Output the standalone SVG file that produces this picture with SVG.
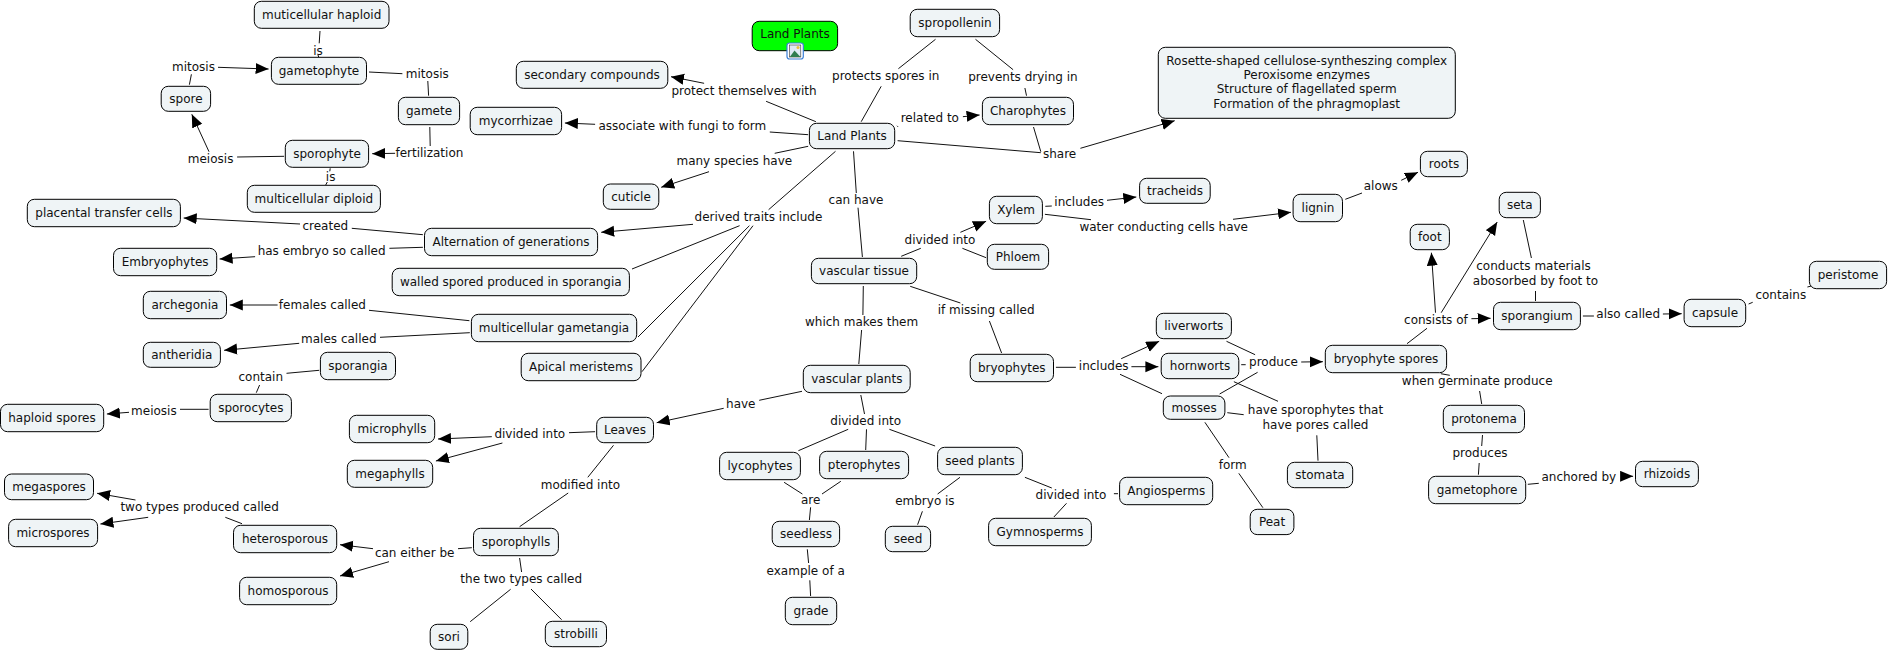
<svg xmlns="http://www.w3.org/2000/svg" width="1889" height="651" viewBox="0 0 1889 651">
<style>
rect.n{fill:#eff4f6;stroke:#000;stroke-width:1;rx:7px;ry:7px}
text{font-family:"DejaVu Sans","Liberation Sans",sans-serif;font-size:12px;fill:#111;text-anchor:middle}
.c line{stroke:#111;stroke-width:1;fill:none}
.c line.a{marker-end:url(#ah)}
</style>
<defs>
<marker id="ah" markerUnits="userSpaceOnUse" markerWidth="14" markerHeight="12" refX="13" refY="5.5" orient="auto"><polygon points="0,0 13,5.5 0,11" fill="#000"/></marker>
</defs>
<rect width="1889" height="651" fill="#fff"/>
<g id="connectors" class="c">
<line x1="320" y1="31" x2="319.2" y2="43.3"/>
<line x1="318" y1="55" x2="318.8" y2="57.3"/>
<line class="a" x1="218" y1="67.3" x2="268.6" y2="69"/>
<line x1="189.4" y1="84.7" x2="191.4" y2="74.3"/>
<line x1="369" y1="72" x2="402.4" y2="73.7"/>
<line x1="427.8" y1="81" x2="428.6" y2="95.7"/>
<line x1="429.8" y1="127" x2="430.2" y2="146"/>
<line class="a" x1="395.1" y1="153.3" x2="372.2" y2="153.7"/>
<line x1="284.1" y1="156.3" x2="237.1" y2="157"/>
<line class="a" x1="209" y1="151.7" x2="191.8" y2="114.3"/>
<line x1="330.2" y1="168.3" x2="329.8" y2="171.3"/>
<line x1="327.3" y1="182" x2="325.7" y2="185"/>
<line x1="422.9" y1="234.7" x2="351.8" y2="228.3"/>
<line class="a" x1="300" y1="224" x2="183.7" y2="218"/>
<line x1="422.9" y1="247.3" x2="389.4" y2="248.3"/>
<line class="a" x1="255.1" y1="256.7" x2="219.6" y2="259"/>
<line x1="469.4" y1="320.7" x2="369" y2="310.3"/>
<line class="a" x1="277.6" y1="305" x2="229.8" y2="305"/>
<line x1="469.8" y1="332.7" x2="380" y2="337.3"/>
<line class="a" x1="299.2" y1="343.3" x2="224.1" y2="350.3"/>
<line x1="319.2" y1="370.3" x2="286.5" y2="373.3"/>
<line x1="259.6" y1="385" x2="256.3" y2="392.7"/>
<line x1="208.6" y1="409.3" x2="180" y2="409.3"/>
<line class="a" x1="129" y1="412.3" x2="106.9" y2="414"/>
<line x1="595.1" y1="431.7" x2="569" y2="432.7"/>
<line class="a" x1="491.8" y1="436.7" x2="438" y2="439"/>
<line class="a" x1="502.4" y1="443" x2="435.9" y2="461"/>
<line x1="613.5" y1="445.3" x2="587.8" y2="477.3"/>
<line x1="568.2" y1="493" x2="519.6" y2="526.7"/>
<line x1="471.8" y1="547.7" x2="458" y2="548.7"/>
<line class="a" x1="373" y1="548.7" x2="340" y2="544.7"/>
<line class="a" x1="389" y1="561.7" x2="340" y2="576"/>
<line x1="242" y1="523.7" x2="225.3" y2="517.3"/>
<line class="a" x1="135.5" y1="500" x2="97.1" y2="493.3"/>
<line class="a" x1="148.2" y1="517.3" x2="100.4" y2="524"/>
<line x1="519.6" y1="558" x2="521.6" y2="572"/>
<line x1="510.6" y1="589.3" x2="470.2" y2="621.7"/>
<line x1="531" y1="589" x2="561.6" y2="619.7"/>
<line x1="861.2" y1="121.7" x2="881.2" y2="86.3"/>
<line x1="898.4" y1="68.7" x2="935.5" y2="39.3"/>
<line x1="975.5" y1="39.3" x2="1013.1" y2="69.7"/>
<line x1="1024.9" y1="88" x2="1026.5" y2="95.7"/>
<line x1="815.9" y1="121.7" x2="766.1" y2="101.3"/>
<line class="a" x1="704.1" y1="83.3" x2="671" y2="76.7"/>
<line x1="808.2" y1="134.7" x2="769.8" y2="132"/>
<line class="a" x1="595.1" y1="124.3" x2="564.9" y2="123"/>
<line x1="808.2" y1="146.3" x2="774.7" y2="153.3"/>
<line class="a" x1="709" y1="171.7" x2="661.2" y2="187.3"/>
<line x1="897" y1="125.8" x2="898" y2="126.8"/>
<line class="a" x1="962.9" y1="116.7" x2="979.6" y2="115"/>
<line x1="897.6" y1="140.7" x2="1040.8" y2="152.7"/>
<line x1="1033.5" y1="127" x2="1040.8" y2="151.7"/>
<line class="a" x1="1080.4" y1="148.3" x2="1174.7" y2="120.7"/>
<line x1="853.5" y1="151.3" x2="856.3" y2="193"/>
<line x1="858" y1="207.7" x2="862.4" y2="257"/>
<line x1="835.5" y1="151.3" x2="768.6" y2="209.7"/>
<line class="a" x1="693" y1="224.3" x2="601.2" y2="232.3"/>
<line x1="739.6" y1="225.7" x2="632" y2="269"/>
<line x1="749.4" y1="225.7" x2="638" y2="337"/>
<line x1="753" y1="225.7" x2="642" y2="371.7"/>
<line x1="901.2" y1="256.3" x2="920.8" y2="248.3"/>
<line class="a" x1="960.4" y1="232.3" x2="986.1" y2="221.3"/>
<line x1="962.4" y1="248.3" x2="986.1" y2="257.7"/>
<line x1="1045.3" y1="206.3" x2="1051.8" y2="206"/>
<line class="a" x1="1107" y1="200.3" x2="1136.3" y2="197"/>
<line x1="1044.9" y1="214.3" x2="1091" y2="219.7"/>
<line class="a" x1="1233" y1="219.3" x2="1291" y2="212.3"/>
<line x1="1345.3" y1="199.3" x2="1362" y2="193"/>
<line class="a" x1="1401.2" y1="180.3" x2="1418" y2="172.3"/>
<line x1="863.3" y1="286" x2="862.9" y2="315"/>
<line x1="861.6" y1="330" x2="858.8" y2="364"/>
<line x1="910.2" y1="286.3" x2="960.4" y2="303"/>
<line x1="989.4" y1="321" x2="1001.6" y2="353"/>
<line x1="802" y1="391.3" x2="759.2" y2="400.3"/>
<line class="a" x1="723.7" y1="408.3" x2="656.7" y2="422.7"/>
<line x1="860.8" y1="395" x2="864.5" y2="414"/>
<line x1="848.2" y1="429.3" x2="798.4" y2="450.7"/>
<line x1="866.5" y1="429.3" x2="865.7" y2="450"/>
<line x1="889.4" y1="429.3" x2="935.1" y2="446"/>
<line x1="784.1" y1="482.3" x2="802.4" y2="494"/>
<line x1="840.8" y1="481.3" x2="822" y2="494"/>
<line x1="810.6" y1="507.3" x2="809.4" y2="520"/>
<line x1="807.3" y1="549.3" x2="808.6" y2="563"/>
<line x1="809.8" y1="580.3" x2="810.6" y2="596"/>
<line x1="960" y1="477.3" x2="937.6" y2="494"/>
<line x1="922.4" y1="511.3" x2="917.6" y2="524.7"/>
<line x1="1024.9" y1="477.3" x2="1051.8" y2="488"/>
<line x1="1118" y1="493.7" x2="1113.9" y2="493.7"/>
<line x1="1066.5" y1="503.3" x2="1053.9" y2="517"/>
<line x1="1055.9" y1="367.3" x2="1075.9" y2="367.3"/>
<line class="a" x1="1121.2" y1="358.7" x2="1159.2" y2="341.3"/>
<line class="a" x1="1131.4" y1="366.7" x2="1158.4" y2="366.7"/>
<line x1="1120" y1="374.3" x2="1162" y2="393.7"/>
<line x1="1226.5" y1="341.3" x2="1255.1" y2="354.7"/>
<line x1="1241.2" y1="364.7" x2="1245.7" y2="364.7"/>
<line x1="1219.6" y1="394" x2="1257.6" y2="372.3"/>
<line x1="1233.9" y1="381.7" x2="1278" y2="401.3"/>
<line x1="1227.3" y1="412.7" x2="1243.7" y2="414.7"/>
<line x1="1316.8" y1="435.3" x2="1318" y2="460.7"/>
<line x1="1204.9" y1="422.3" x2="1229" y2="457.7"/>
<line x1="1238.8" y1="473.3" x2="1262.9" y2="507.7"/>
<line class="a" x1="1301.2" y1="362" x2="1322.9" y2="361.7"/>
<line x1="1407" y1="343.7" x2="1427" y2="328.3"/>
<line class="a" x1="1435.5" y1="312.7" x2="1431.4" y2="252.7"/>
<line class="a" x1="1441.2" y1="312.7" x2="1497.2" y2="222"/>
<line class="a" x1="1471.4" y1="318.7" x2="1490.6" y2="318.3"/>
<line x1="1535.5" y1="291" x2="1535.5" y2="301"/>
<line x1="1531.4" y1="258" x2="1523.3" y2="220"/>
<line x1="1582.9" y1="316" x2="1593.9" y2="316"/>
<line class="a" x1="1662.9" y1="314" x2="1681.7" y2="313.7"/>
<line x1="1748.6" y1="304" x2="1752.7" y2="302.3"/>
<line x1="1807.4" y1="287" x2="1811.4" y2="286"/>
<line x1="1440.8" y1="373.7" x2="1449.8" y2="375.3"/>
<line x1="1479.6" y1="391" x2="1481.7" y2="404"/>
<line x1="1482.5" y1="435" x2="1481.7" y2="446"/>
<line x1="1479.2" y1="463" x2="1478.4" y2="474.7"/>
<line x1="1527.8" y1="484.3" x2="1538.8" y2="483.3"/>
<line class="a" x1="1621.2" y1="476.3" x2="1633.1" y2="476.3"/>
</g>
<g id="title"><rect class="n" style="fill:#00ff00" x="752.2" y="21.3" width="85.4" height="29.4"/><text x="795" y="38">Land Plants</text>
<rect x="787" y="43" width="16.3" height="16" rx="2.5" fill="#fff" stroke="#3b7fd6" stroke-width="1.2"/><rect x="789.5" y="45" width="11.3" height="12" fill="#dfeaf5" stroke="#333" stroke-width="0.6"/><path d="M789.8 57 L794.5 50.5 L800.5 57 Z" fill="#2f7d4f"/><circle cx="798" cy="47.5" r="1.5" fill="#e8c23a"/></g>
<g id="n1"><rect class="n" x="254.3" y="1.3" width="134.7" height="27"/><text x="321.7" y="18.5">muticellular haploid</text></g>
<g id="n2"><rect class="n" x="271.4" y="57.3" width="95.1" height="27"/><text x="319" y="74.5">gametophyte</text></g>
<g id="n3"><rect class="n" x="161.2" y="86.3" width="49.4" height="25"/><text x="185.9" y="102.5">spore</text></g>
<g id="n4"><rect class="n" x="398.4" y="97.3" width="61.2" height="27.4"/><text x="429" y="114.7">gamete</text></g>
<g id="n5"><rect class="n" x="285.3" y="140.3" width="83.3" height="27"/><text x="327" y="157.5">sporophyte</text></g>
<g id="n6"><rect class="n" x="247.3" y="185.3" width="133.1" height="27"/><text x="313.9" y="202.5">multicellular diploid</text></g>
<g id="n7"><rect class="n" x="27.3" y="199.3" width="153.1" height="27.4"/><text x="103.9" y="216.7">placental transfer cells</text></g>
<g id="n8"><rect class="n" x="424.5" y="228.3" width="173.1" height="27.4"/><text x="511" y="245.7">Alternation of generations</text></g>
<g id="n9"><rect class="n" x="113.5" y="248.3" width="103.2" height="27.4"/><text x="165.1" y="265.7">Embryophytes</text></g>
<g id="n10"><rect class="n" x="392.2" y="268.3" width="237.2" height="27.4"/><text x="510.8" y="285.7">walled spored produced in sporangia</text></g>
<g id="n11"><rect class="n" x="143.3" y="291.3" width="83.2" height="27.4"/><text x="184.9" y="308.7">archegonia</text></g>
<g id="n12"><rect class="n" x="516.3" y="61.3" width="151.5" height="27"/><text x="592" y="78.5">secondary compounds</text></g>
<g id="n13"><rect class="n" x="470.2" y="107.3" width="91.4" height="27.4"/><text x="515.9" y="124.7">mycorrhizae</text></g>
<g id="n14"><rect class="n" x="603.3" y="184" width="55.5" height="25.3"/><text x="631" y="200.5">cuticle</text></g>
<g id="n15"><rect class="n" x="471.4" y="314.3" width="165.3" height="27.4"/><text x="554" y="331.7">multicellular gametangia</text></g>
<g id="n16"><rect class="n" x="143.3" y="342.3" width="77.1" height="25"/><text x="181.8" y="358.5">antheridia</text></g>
<g id="n17"><rect class="n" x="320.4" y="352.3" width="75.1" height="27.4"/><text x="358" y="369.7">sporangia</text></g>
<g id="n18"><rect class="n" x="521.2" y="353.3" width="119.8" height="27.4"/><text x="581" y="370.7">Apical meristems</text></g>
<g id="n19"><rect class="n" x="210.2" y="394.3" width="81.2" height="27.4"/><text x="250.8" y="411.7">sporocytes</text></g>
<g id="n20"><rect class="n" x="0.5" y="404.3" width="103.2" height="27.4"/><text x="52" y="421.7">haploid spores</text></g>
<g id="n21"><rect class="n" x="349.4" y="415.3" width="85.3" height="27.4"/><text x="392" y="432.7">microphylls</text></g>
<g id="n22"><rect class="n" x="347.3" y="460.3" width="85.4" height="27"/><text x="390" y="477.5">megaphylls</text></g>
<g id="n23"><rect class="n" x="596.7" y="417.3" width="56.8" height="25.4"/><text x="625" y="433.7">Leaves</text></g>
<g id="n24"><rect class="n" x="4.5" y="474" width="89" height="25.7"/><text x="49" y="490.5">megaspores</text></g>
<g id="n25"><rect class="n" x="8.6" y="519.3" width="89" height="27.4"/><text x="53" y="536.7">microspores</text></g>
<g id="n26"><rect class="n" x="233.5" y="525.3" width="103.2" height="27.4"/><text x="285" y="542.7">heterosporous</text></g>
<g id="n27"><rect class="n" x="239.6" y="577.3" width="97.1" height="27.4"/><text x="288.1" y="594.7">homosporous</text></g>
<g id="n28"><rect class="n" x="473.5" y="528.3" width="84.9" height="27.4"/><text x="516" y="545.7">sporophylls</text></g>
<g id="n29"><rect class="n" x="430.2" y="624.3" width="37.6" height="25"/><text x="449" y="640.5">sori</text></g>
<g id="n30"><rect class="n" x="545.3" y="621.3" width="61.2" height="25.4"/><text x="575.9" y="637.7">strobilli</text></g>
<g id="n31"><rect class="n" x="910.2" y="9.3" width="89.4" height="27.4"/><text x="955" y="26.7">spropollenin</text></g>
<g id="n32"><rect class="n" x="809.4" y="123.3" width="85.3" height="25.4"/><text x="852" y="139.7">Land Plants</text></g>
<g id="n33"><rect class="n" x="982.4" y="97.3" width="91.1" height="27.4"/><text x="1028" y="114.7">Charophytes</text></g>
<g id="n34"><rect class="n" x="1158.3" y="47.3" width="297" height="71"/><text x="1306.7" y="64.6">Rosette-shaped cellulose-syntheszing complex</text><text x="1306.7" y="79">Peroxisome enzymes</text><text x="1306.7" y="93.4">Structure of flagellated sperm</text><text x="1306.7" y="107.8">Formation of the phragmoplast</text></g>
<g id="n35"><rect class="n" x="1139.6" y="178.3" width="70.6" height="25"/><text x="1175" y="194.5">tracheids</text></g>
<g id="n36"><rect class="n" x="989.4" y="196.3" width="53" height="27.4"/><text x="1016" y="213.7">Xylem</text></g>
<g id="n37"><rect class="n" x="987.3" y="244.3" width="61.3" height="25"/><text x="1018" y="260.5">Phloem</text></g>
<g id="n38"><rect class="n" x="811.4" y="258.3" width="105.3" height="25.4"/><text x="864" y="274.7">vascular tissue</text></g>
<g id="n39"><rect class="n" x="1156.3" y="313.3" width="75.1" height="25.4"/><text x="1193.8" y="329.7">liverworts</text></g>
<g id="n40"><rect class="n" x="803.3" y="365.3" width="106.9" height="27.4"/><text x="856.8" y="382.7">vascular plants</text></g>
<g id="n41"><rect class="n" x="970.2" y="354.3" width="83.3" height="27.4"/><text x="1011.8" y="371.7">bryophytes</text></g>
<g id="n42"><rect class="n" x="1161.2" y="353.3" width="77.6" height="25.4"/><text x="1200" y="369.7">hornworts</text></g>
<g id="n43"><rect class="n" x="1163.3" y="396" width="61.6" height="23.3"/><text x="1194.1" y="411.5">mosses</text></g>
<g id="n44"><rect class="n" x="719.6" y="452.3" width="80.8" height="27.4"/><text x="760" y="469.7">lycophytes</text></g>
<g id="n45"><rect class="n" x="819.6" y="451.3" width="89" height="27.4"/><text x="864" y="468.7">pterophytes</text></g>
<g id="n46"><rect class="n" x="937.6" y="447.3" width="84.8" height="27.4"/><text x="980" y="464.7">seed plants</text></g>
<g id="n47"><rect class="n" x="1119.6" y="477.3" width="93.1" height="27.4"/><text x="1166.2" y="494.7">Angiosperms</text></g>
<g id="n48"><rect class="n" x="988.6" y="518.3" width="102.8" height="27.4"/><text x="1040" y="535.7">Gymnosperms</text></g>
<g id="n49"><rect class="n" x="772.2" y="521.3" width="67.4" height="25.4"/><text x="806" y="537.7">seedless</text></g>
<g id="n50"><rect class="n" x="885.3" y="526.3" width="45.3" height="25.4"/><text x="908" y="542.7">seed</text></g>
<g id="n51"><rect class="n" x="785.3" y="597.3" width="51.4" height="27.4"/><text x="811" y="614.7">grade</text></g>
<g id="n52"><rect class="n" x="1420.4" y="151.3" width="47" height="25.4"/><text x="1444" y="168">roots</text></g>
<g id="n53"><rect class="n" x="1293.1" y="194.3" width="49.4" height="27.4"/><text x="1318" y="211.7">lignin</text></g>
<g id="n54"><rect class="n" x="1499.2" y="192.3" width="41.2" height="25.4"/><text x="1519.8" y="209">seta</text></g>
<g id="n55"><rect class="n" x="1410.2" y="224.3" width="39.2" height="25.4"/><text x="1429.8" y="241">foot</text></g>
<g id="n56"><rect class="n" x="1809.4" y="261.3" width="77.2" height="27.4"/><text x="1848" y="278.7">peristome</text></g>
<g id="n57"><rect class="n" x="1493.5" y="302.3" width="86.9" height="27.4"/><text x="1537" y="319.7">sporangium</text></g>
<g id="n58"><rect class="n" x="1684.1" y="299.3" width="61.6" height="27.4"/><text x="1715" y="316.7">capsule</text></g>
<g id="n59"><rect class="n" x="1325.3" y="345.3" width="121.3" height="27.4"/><text x="1386" y="362.7">bryophyte spores</text></g>
<g id="n60"><rect class="n" x="1443.3" y="405.3" width="81.2" height="27.4"/><text x="1484" y="422.7">protonema</text></g>
<g id="n61"><rect class="n" x="1428.6" y="476.3" width="97.1" height="27.4"/><text x="1477" y="493.7">gametophore</text></g>
<g id="n62"><rect class="n" x="1635.5" y="461.3" width="62.9" height="25.4"/><text x="1667" y="477.7">rhizoids</text></g>
<g id="n63"><rect class="n" x="1287.4" y="462.3" width="65.3" height="25.4"/><text x="1320" y="479">stomata</text></g>
<g id="n64"><rect class="n" x="1250.2" y="509.3" width="43.7" height="25.3"/><text x="1272" y="525.7">Peat</text></g>
<g id="labels">
<g id="l1"><text x="318" y="55">is</text></g>
<g id="l2"><text x="193.5" y="71">mitosis</text></g>
<g id="l3"><text x="427.3" y="78">mitosis</text></g>
<g id="l4"><text x="210.6" y="163">meiosis</text></g>
<g id="l5"><text x="429.4" y="157.4">fertilization</text></g>
<g id="l6"><text x="330.6" y="181">is</text></g>
<g id="l7"><text x="325.3" y="230.4">created</text></g>
<g id="l8"><text x="321.6" y="255">has embryo so called</text></g>
<g id="l9"><text x="322.4" y="309.4">females called</text></g>
<g id="l10"><text x="338.8" y="343.4">males called</text></g>
<g id="l11"><text x="260.8" y="381">contain</text></g>
<g id="l12"><text x="153.9" y="415">meiosis</text></g>
<g id="l13"><text x="529.8" y="438.4">divided into</text></g>
<g id="l14"><text x="199.6" y="511.4">two types produced called</text></g>
<g id="l15"><text x="580.4" y="489.4">modified into</text></g>
<g id="l16"><text x="414.7" y="557.4">can either be</text></g>
<g id="l17"><text x="521.2" y="583.4">the two types called</text></g>
<g id="l18"><text x="885.7" y="80">protects spores in</text></g>
<g id="l19"><text x="1022.9" y="81.4">prevents drying in</text></g>
<g id="l20"><text x="744" y="95">protect themselves with</text></g>
<g id="l21"><text x="682.3" y="130.4">associate with fungi to form</text></g>
<g id="l22"><text x="929.8" y="122">related to</text></g>
<g id="l23"><text x="1059.6" y="158">share</text></g>
<g id="l24"><text x="734.3" y="165.4">many species have</text></g>
<g id="l25"><text x="856" y="204.4">can have</text></g>
<g id="l26"><text x="758.4" y="221.4">derived traits include</text></g>
<g id="l27"><text x="1079.2" y="206">includes</text></g>
<g id="l28"><text x="940" y="244">divided into</text></g>
<g id="l29"><text x="1163.7" y="231.4">water conducting cells have</text></g>
<g id="l30"><text x="986.1" y="314.4">if missing called</text></g>
<g id="l31"><text x="861.6" y="326">which makes them</text></g>
<g id="l32"><text x="1103.7" y="370.4">includes</text></g>
<g id="l33"><text x="1273.5" y="366.4">produce</text></g>
<g id="l34"><text x="740.8" y="408.4">have</text></g>
<g id="l35"><text x="865.7" y="425.4">divided into</text></g>
<g id="l36"><text x="1315.5" y="414.4">have sporophytes that</text><text x="1315.5" y="429">have pores called</text></g>
<g id="l37"><text x="1232.7" y="469.4">form</text></g>
<g id="l38"><text x="810.6" y="504.4">are</text></g>
<g id="l39"><text x="924.9" y="505.4">embryo is</text></g>
<g id="l40"><text x="1071" y="499.4">divided into</text></g>
<g id="l41"><text x="805.7" y="574.7">example of a</text></g>
<g id="l42"><text x="1380.8" y="190.4">alows</text></g>
<g id="l43"><text x="1533.5" y="270.4">conducts materials</text><text x="1535.5" y="285">abosorbed by foot to</text></g>
<g id="l44"><text x="1435.9" y="324.4">consists of</text></g>
<g id="l45"><text x="1628.2" y="318.4">also called</text></g>
<g id="l46"><text x="1780.8" y="299">contains</text></g>
<g id="l47"><text x="1477.2" y="385.4">when germinate produce</text></g>
<g id="l48"><text x="1480" y="457.4">produces</text></g>
<g id="l49"><text x="1578.8" y="481.4">anchored by</text></g>
</g>
</svg>
